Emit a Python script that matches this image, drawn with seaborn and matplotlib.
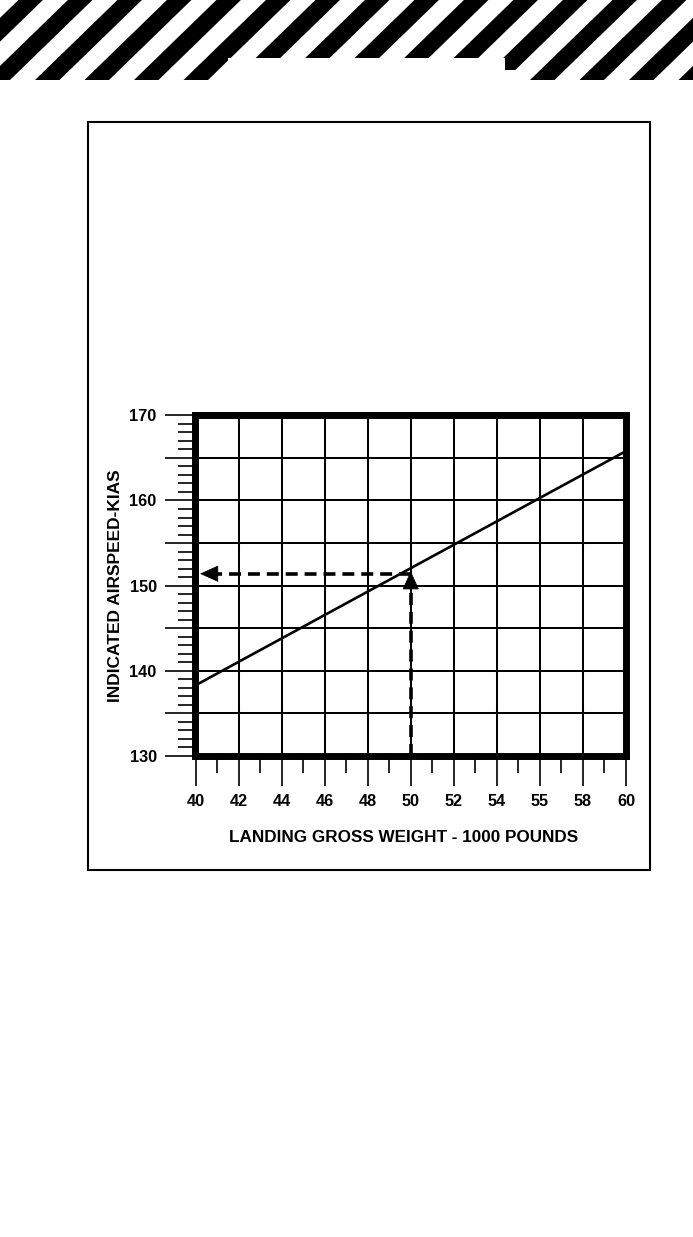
import numpy as np
import pandas as pd
import matplotlib
matplotlib.use('Agg')
import matplotlib.pyplot as plt
from matplotlib.patches import Polygon, Rectangle
from matplotlib.ticker import MultipleLocator
import seaborn as sns

# landing speed vs gross weight (straight line)
weight = [40, 60]
airspeed = [138.3, 165.8]

# worked example: 50,000 lb -> about 151.5 kias
example_weight = 50
example_speed = 151.4
example_tip = 151.7

x_ticks = [40, 42, 44, 46, 48, 50, 52, 54, 56, 58, 60]
x_tick_labels = ['40', '42', '44', '46', '48', '50', '52', '54', '55', '58', '60']
y_ticks = [130, 135, 140, 145, 150, 155, 160, 165, 170]
y_tick_labels = ['130', '', '140', '', '150', '', '160', '', '170']

sns.set_theme(style='white')
plt.rcParams['font.family'] = ['Liberation Sans', 'DejaVu Sans']
plt.rcParams['font.weight'] = 'bold'
plt.rcParams['lines.scale_dashes'] = False

W, H = 693, 1237
fig = plt.figure(figsize=(W / 100, H / 100), dpi=100)
fig.patch.set_facecolor('white')

# page decoration: hazard stripes and the frame around the chart
bg = fig.add_axes([0, 0, 1, 1], zorder=0)
bg.set_xlim(0, W)
bg.set_ylim(H, 0)
bg.axis('off')
for k in range(-3, 15):
    xb = 35 + 49.5 * k
    bg.add_patch(Polygon([(xb, 80), (xb + 24.5, 80), (xb + 106.9, 0), (xb + 82.4, 0)],
                         closed=True, color='black', lw=0))
bg.add_patch(Rectangle((228, 58), 277, 24, color='white', lw=0))
bg.add_patch(Rectangle((504, 70), 11, 12, color='white', lw=0))
bg.add_patch(Rectangle((88, 122), 562, 748, fill=False, ec='black', lw=1.5))

ax = fig.add_axes([195.5 / W, 1 - 756 / H, 430.5 / W, 340.7 / H], zorder=1)
ax.set_facecolor('white')

df = pd.DataFrame({'weight': weight, 'airspeed': airspeed})
sns.lineplot(data=df, x='weight', y='airspeed', ax=ax, color='black', lw=1.9)

# dashed read-off lines with arrow heads
dash = (0, (8.6, 5.0))
ax.plot([example_weight, example_weight], [130, example_tip - 1.9], color='black', lw=2.6, ls=dash)
ax.plot([example_weight, 41.0], [example_speed, example_speed], color='black', lw=2.6, ls=dash)
head = dict(arrowstyle='-|>,head_length=1.0,head_width=0.45', mutation_scale=12.2,
            color='black', lw=0.5, shrinkA=0, shrinkB=0)
ax.annotate('', xy=(example_weight, example_tip), xytext=(0, -17),
            textcoords='offset pixels', arrowprops=head)
ax.annotate('', xy=(40.21, example_speed), xytext=(17, 0),
            textcoords='offset pixels', arrowprops=head)

ax.set_xlim(40, 60)
ax.set_ylim(130, 170)
ax.set_xticks(x_ticks)
ax.set_xticklabels(x_tick_labels)
ax.set_yticks(y_ticks)
ax.set_yticklabels(y_tick_labels)
ax.xaxis.set_minor_locator(MultipleLocator(1))
ax.yaxis.set_minor_locator(MultipleLocator(1))
ax.tick_params(which='major', bottom=True, left=True, direction='out', length=21.6,
               width=1.2, color='black', labelcolor='black', labelsize=11.7)
ax.tick_params(axis='x', which='major', pad=6)
ax.tick_params(axis='y', which='major', pad=6.3)
ax.tick_params(which='minor', bottom=True, left=True, direction='out', length=12,
               width=1.2, color='black')
ax.grid(True, which='major', color='black', lw=1.45)
ax.grid(False, which='minor')
for s in ax.spines.values():
    s.set_visible(True)
    s.set_linewidth(5)
    s.set_color('black')

ax.set_xlabel('LANDING GROSS WEIGHT - 1000 POUNDS', fontsize=12.3, fontweight='bold', color='black')
ax.set_ylabel('INDICATED AIRSPEED-KIAS', fontsize=12.5, fontweight='bold', color='black')
ax.xaxis.label.set_va('center')
ax.yaxis.label.set_va('center')
ax.xaxis.set_label_coords(0.484, -0.238)
ax.yaxis.set_label_coords(-0.1847, 0.5004)

fig.savefig('out.png', dpi=100, facecolor='white')
